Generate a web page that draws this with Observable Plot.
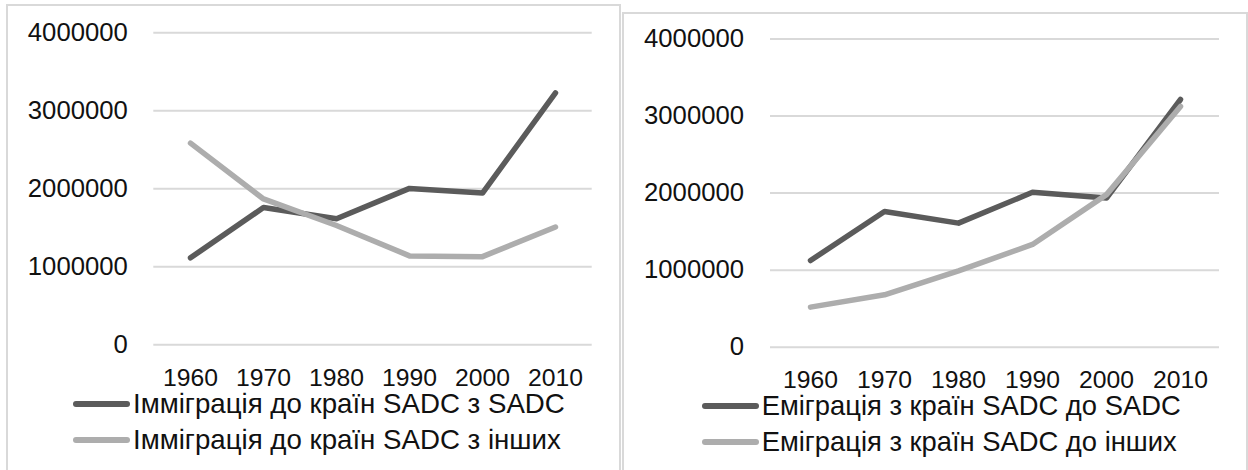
<!DOCTYPE html>
<html><head><meta charset="utf-8">
<script src="https://cdn.jsdelivr.net/npm/d3@7"></script>
<script src="https://cdn.jsdelivr.net/npm/@observablehq/plot@0.6"></script>
<style>
body{margin:0;background:#fff;width:1248px;height:470px;overflow:hidden;position:relative;font-family:"Liberation Sans",Arial,sans-serif;}
.panel{position:absolute;border:2px solid #d9d9d9;box-sizing:border-box;height:480px;}
.panel svg{position:absolute;left:0;top:0;}
.row{position:absolute;height:20px;line-height:20px;display:flex;align-items:center;color:#111;white-space:nowrap;}
.row span.t{display:inline-block;height:20px;line-height:20px;}
.sw{display:inline-block;height:6px;border-radius:3px;width:57px;margin-right:3px;flex:none;}
</style></head><body>
<div id="left" class="panel" style="left:6px;top:4px;width:615px;"></div>
<div id="right" class="panel" style="left:622px;top:12px;width:626px;"></div>
<script>
const years = [1960, 1970, 1980, 1990, 2000, 2010];
const yTicks = [0, 1000000, 2000000, 3000000, 4000000];
// Left panel: immigration
const immigFromSADC  = [1115000, 1760000, 1615000, 2005000, 1945000, 3230000];
const immigFromOther = [2585000, 1870000, 1530000, 1140000, 1130000, 1510000];
const leftNames = ["Імміграція до країн SADC з SADC", "Імміграція до країн SADC з інших"];
// Right panel: emigration
const emigToSADC  = [1125000, 1762000, 1610000, 2010000, 1935000, 3215000];
const emigToOther = [520000, 680000, 990000, 1334000, 1980000, 3125000];
const rightNames = ["Еміграція з країн SADC до SADC", "Еміграція з країн SADC до інших"];
const colors = ["#5b5b5b", "#adadad"];
const FONT = '"Liberation Sans", Arial, sans-serif';

const ctx = document.createElement("canvas").getContext("2d");
function fit(text, target) {
  ctx.font = "100px " + FONT;
  return 100 * target / ctx.measureText(text).width;
}

function makePanel(el, cfg, seriesArrays, names, legendPos) {
  const data = [];
  seriesArrays.forEach((arr, i) => arr.forEach((v, j) => data.push({year: years[j], value: v, s: names[i]})));
  const ySize = fit("4000000", cfg.yW);
  const xSize = fit("1960", cfg.xW);
  const chart = Plot.plot({
    width: cfg.width, height: cfg.height,
    marginLeft: cfg.ml, marginRight: cfg.mr, marginTop: cfg.mt, marginBottom: cfg.mb,
    style: {fontFamily: FONT, fontSize: "26px", color: "#111", background: "transparent"},
    x: {type: "point", domain: years, padding: 0.5, label: null},
    y: {domain: [0, 4000000], label: null},
    marks: [
      Plot.gridY(yTicks, {stroke: "#d9d9d9", strokeOpacity: 1, strokeWidth: 2}),
      Plot.axisY(yTicks, {tickSize: 0, tickPadding: cfg.yPad, tickFormat: d3.format("d"), fill: "#111", label: null, fontSize: ySize}),
      Plot.axisX({tickSize: 0, tickPadding: cfg.xPad, tickFormat: d => String(d), fill: "#111", label: null, fontSize: xSize}),
      ...names.map((n, i) => Plot.line(data.filter(d => d.s === n), {
        x: "year", y: "value", stroke: colors[i], strokeWidth: 5.5,
        strokeLinejoin: "round", strokeLinecap: "round"
      }))
    ]
  });
  el.appendChild(chart);
  const lSize = fit(names[0], legendPos.textW);
  names.forEach((n, i) => {
    const row = document.createElement("div");
    row.className = "row";
    row.style.left = legendPos.left + "px";
    row.style.top = (legendPos.centers[i] - 10) + "px";
    row.style.fontSize = lSize + "px";
    const sw = document.createElement("span");
    sw.className = "sw";
    sw.style.background = colors[i];
    row.appendChild(sw);
    const t = document.createElement("span");
    t.className = "t";
    t.textContent = n;
    row.appendChild(t);
    el.appendChild(row);
  });
}

makePanel(document.getElementById("left"),
  {width: 611, height: 390, ml: 145.3, mr: 27.3, mt: 26.3, mb: 51.7, yPad: 26, xPad: 24, yW: 100, xW: 55},
  [immigFromSADC, immigFromOther], leftNames, {left: 65, centers: [398, 434], textW: 432});
makePanel(document.getElementById("right"),
  {width: 622, height: 384, ml: 146, mr: 27, mt: 24.5, mb: 51.3, yPad: 26.5, xPad: 23, yW: 100, xW: 55},
  [emigToSADC, emigToOther], rightNames, {left: 77.7, centers: [392, 427.5], textW: 419});
</script>
</body></html>
